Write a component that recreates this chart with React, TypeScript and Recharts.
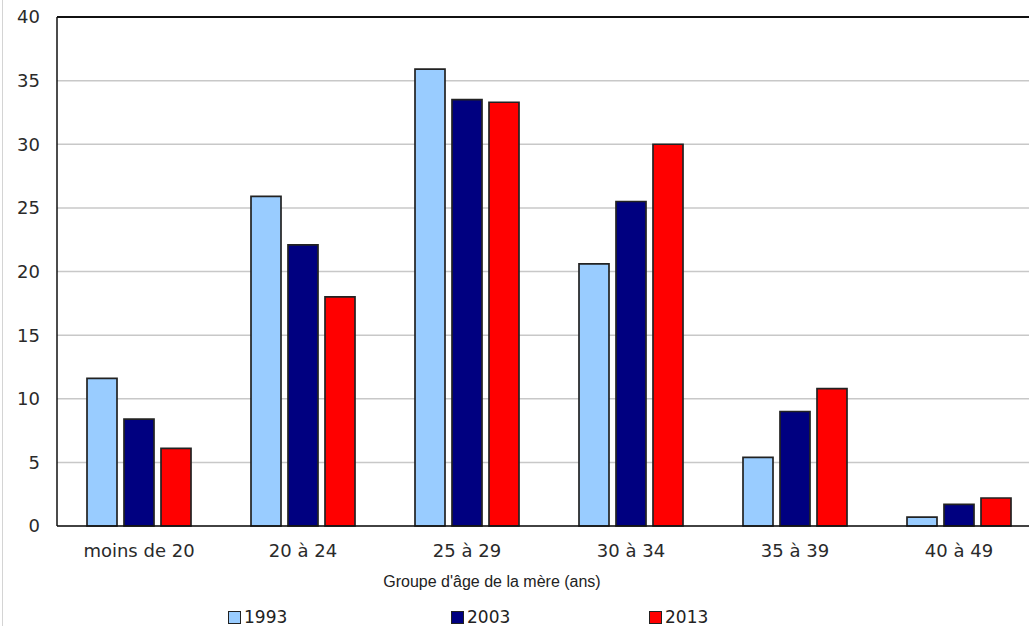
import React from 'react';
import { BarChart, Bar, XAxis, YAxis, CartesianGrid, ReferenceLine } from 'recharts';

const categories = ['moins de 20', '20 à 24', '25 à 29', '30 à 34', '35 à 39', '40 à 49'];
const values1993 = [11.6, 25.9, 35.9, 20.6, 5.4, 0.7];
const values2003 = [8.4, 22.1, 33.5, 25.5, 9.0, 1.7];
const values2013 = [6.1, 18.0, 33.3, 30.0, 10.8, 2.2];
const yTicks = [0, 5, 10, 15, 20, 25, 30, 35, 40];
const seriesNames = ['1993', '2003', '2013'];
const seriesColors = ['#99CCFF', '#000080', '#FF0000'];
const axisTitle = "Groupe d'âge de la mère (ans)";

const data = categories.map((c, i) => ({
  cat: c,
  y1993: values1993[i],
  y2003: values2003[i],
  y2013: values2013[i],
}));

const legendLeft = [228, 451, 649];

const renderTitle = (props: any) => {
  const vb = props.viewBox || {};
  return (
    <text
      x={vb.x + vb.width / 2 - 57}
      y={vb.y + 61}
      textAnchor="middle"
      fontFamily="'Liberation Sans', Arial, sans-serif"
      fontSize={16}
      fill="#222"
    >
      {axisTitle}
    </text>
  );
};

export default function App() {
  const keys = ['y1993', 'y2003', 'y2013'];
  return (
    <div style={{ position: 'fixed', left: 0, top: 0, width: 1029, height: 626, overflow: 'hidden', background: '#fff' }}>
      <div style={{ position: 'absolute', left: 2, top: 0, width: 1, height: 626, background: '#d4d4d4' }} />
      <div style={{ position: 'absolute', left: 0, top: 0 }}>
        <BarChart
          width={1050}
          height={626}
          data={data}
          margin={{ top: 17, right: 9, left: 12, bottom: 40 }}
          barSize={30}
          barGap={7}
        >
          <CartesianGrid vertical={false} stroke="#c8c8c8" strokeWidth={1.5} />
          <XAxis
            dataKey="cat"
            height={60}
            tickLine={false}
            tickSize={0}
            tickMargin={18}
            axisLine={{ stroke: '#111', strokeWidth: 1.5 }}
            tick={{ fontFamily: "'DejaVu Sans', Verdana, sans-serif", fontSize: 18, fill: '#2a2a2a' }}
            interval={0}
            label={{ content: renderTitle }}
          />
          <YAxis
            width={45}
            domain={[0, 40]}
            ticks={yTicks}
            tickLine={false}
            tickSize={0}
            tickMargin={17}
            axisLine={{ stroke: '#111', strokeWidth: 1.5 }}
            tick={{ fontFamily: "'DejaVu Sans', Verdana, sans-serif", fontSize: 18, fill: '#2a2a2a' }}
            interval={0}
          />
          <ReferenceLine y={40} stroke="#111" strokeWidth={2} />
          {keys.map((k, i) => (
            <Bar
              key={k}
              dataKey={k}
              name={seriesNames[i]}
              fill={seriesColors[i]}
              stroke="#222"
              strokeWidth={1.7}
              isAnimationActive={false}
            />
          ))}
        </BarChart>
      </div>
      {seriesNames.map((n, i) => (
        <div
          key={n}
          style={{
            position: 'absolute',
            left: legendLeft[i],
            top: 608,
            display: 'flex',
            alignItems: 'center',
            fontFamily: "'DejaVu Sans', Verdana, sans-serif",
            fontSize: 17,
            color: '#222',
            lineHeight: '18px',
          }}
        >
          <span
            style={{
              display: 'inline-block',
              width: 11,
              height: 11,
              background: seriesColors[i],
              border: '1px solid #222',
              marginRight: 3,
            }}
          />
          <span>{n}</span>
        </div>
      ))}
    </div>
  );
}
